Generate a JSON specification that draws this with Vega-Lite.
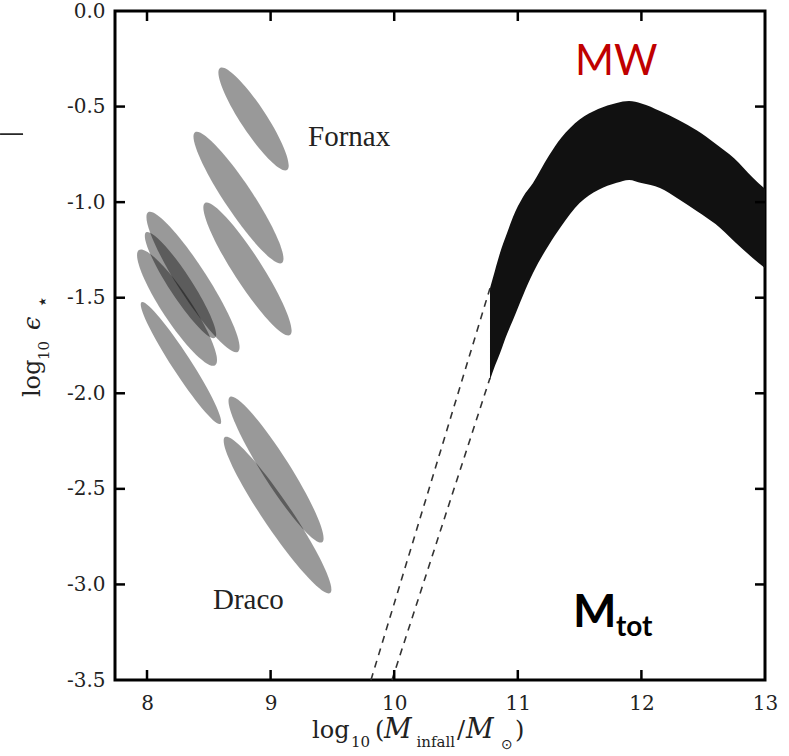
{
  "$schema": "https://vega.github.io/schema/vega-lite/v6.json",
  "width": 650,
  "height": 669,
  "autosize": {"type": "none"},
  "padding": {"left": 115, "top": 11, "right": 24, "bottom": 76},
  "background": "white",
  "config": {
    "view": {"stroke": "black", "strokeWidth": 3},
    "axis": {
      "grid": false,
      "domain": false,
      "ticks": false,
      "labelFont": "DejaVu Serif",
      "labelFontSize": 20,
      "labelColor": "#222",
      "labelFlush": false,
      "labelOverlap": false,
      "labelBound": false
    }
  },
  "resolve": {"axis": {"x": "independent", "y": "independent"}},
  "layer": [
    {
      "data": {
        "values": [
          {"logM": 8.862, "logEps": -0.565, "major": 0.987, "tilt": 56.7, "thin": 0.21},
          {"logM": 8.740, "logEps": -0.976, "major": 1.270, "tilt": 56.4, "thin": 0.18},
          {"logM": 8.813, "logEps": -1.350, "major": 1.270, "tilt": 57.2, "thin": 0.18},
          {"logM": 8.372, "logEps": -1.418, "major": 1.343, "tilt": 57.3, "thin": 0.18},
          {"logM": 8.271, "logEps": -1.434, "major": 1.019, "tilt": 56.9, "thin": 0.18},
          {"logM": 8.243, "logEps": -1.552, "major": 1.117, "tilt": 56.5, "thin": 0.21},
          {"logM": 8.275, "logEps": -1.842, "major": 1.173, "tilt": 57.0, "thin": 0.13},
          {"logM": 9.044, "logEps": -2.399, "major": 1.392, "tilt": 57.6, "thin": 0.16},
          {"logM": 9.056, "logEps": -2.637, "major": 1.521, "tilt": 56.0, "thin": 0.15}
        ]
      },
      "mark": {"type": "point", "filled": true, "color": "black", "opacity": 0.4, "strokeWidth": 0},
      "encoding": {
        "x": {
          "field": "logM", "type": "quantitative",
          "scale": {"domain": [7.741, 13], "nice": false, "zero": false},
          "axis": {"orient": "bottom", "values": [8, 9, 10, 11, 12, 13], "format": "d", "labelPadding": 13, "title": null}
        },
        "y": {
          "field": "logEps", "type": "quantitative",
          "scale": {"domain": [-3.5, 0], "nice": false, "zero": false},
          "axis": {
            "orient": "left",
            "values": [-3.5, -3, -2.5, -2, -1.5, -1, -0.5, 0],
            "labelExpr": "datum.value < 0 ? '-' + format(-datum.value, '.1f') : format(datum.value, '.1f')",
            "labelPadding": 10,
            "title": null
          }
        },
        "size": {
          "field": "major", "type": "quantitative",
          "scale": {"type": "pow", "exponent": 2, "domain": [0, 2], "range": [0, 61108]},
          "legend": null
        },
        "angle": {
          "field": "tilt", "type": "quantitative",
          "scale": {"domain": [0, 360], "range": [0, 360]}
        },
        "shape": {
          "field": "thin", "type": "ordinal",
          "scale": {
            "domain": [0.13, 0.15, 0.16, 0.18, 0.21],
            "range": [
              "M1,0C1,0.0718,0.5523,0.13,0,0.13C-0.5523,0.13,-1,0.0718,-1,0C-1,-0.0718,-0.5523,-0.13,0,-0.13C0.5523,-0.13,1,-0.0718,1,0Z",
              "M1,0C1,0.0828,0.5523,0.15,0,0.15C-0.5523,0.15,-1,0.0828,-1,0C-1,-0.0828,-0.5523,-0.15,0,-0.15C0.5523,-0.15,1,-0.0828,1,0Z",
              "M1,0C1,0.0884,0.5523,0.16,0,0.16C-0.5523,0.16,-1,0.0884,-1,0C-1,-0.0884,-0.5523,-0.16,0,-0.16C0.5523,-0.16,1,-0.0884,1,0Z",
              "M1,0C1,0.0994,0.5523,0.18,0,0.18C-0.5523,0.18,-1,0.0994,-1,0C-1,-0.0994,-0.5523,-0.18,0,-0.18C0.5523,-0.18,1,-0.0994,1,0Z",
              "M1,0C1,0.1160,0.5523,0.21,0,0.21C-0.5523,0.21,-1,0.1160,-1,0C-1,-0.1160,-0.5523,-0.21,0,-0.21C0.5523,-0.21,1,-0.1160,1,0Z"
            ]
          },
          "legend": null
        }
      }
    },
    {
      "data": {
        "values": [
          {"logM": 10.775, "hi": -1.45, "lo": -1.93},
          {"logM": 10.816, "hi": -1.356, "lo": -1.855},
          {"logM": 10.856, "hi": -1.266, "lo": -1.79},
          {"logM": 10.913, "hi": -1.162, "lo": -1.69},
          {"logM": 10.961, "hi": -1.078, "lo": -1.617},
          {"logM": 11.042, "hi": -0.973, "lo": -1.488},
          {"logM": 11.123, "hi": -0.9, "lo": -1.371},
          {"logM": 11.25, "hi": -0.759, "lo": -1.225},
          {"logM": 11.35, "hi": -0.665, "lo": -1.128},
          {"logM": 11.5, "hi": -0.568, "lo": -1.005},
          {"logM": 11.65, "hi": -0.513, "lo": -0.937},
          {"logM": 11.8, "hi": -0.481, "lo": -0.899},
          {"logM": 11.9, "hi": -0.471, "lo": -0.884},
          {"logM": 12.0, "hi": -0.484, "lo": -0.9},
          {"logM": 12.15, "hi": -0.523, "lo": -0.926},
          {"logM": 12.3, "hi": -0.57, "lo": -0.984},
          {"logM": 12.45, "hi": -0.625, "lo": -1.047},
          {"logM": 12.6, "hi": -0.694, "lo": -1.115},
          {"logM": 12.75, "hi": -0.77, "lo": -1.204},
          {"logM": 12.9, "hi": -0.871, "lo": -1.292},
          {"logM": 13.0, "hi": -0.931, "lo": -1.345}
        ]
      },
      "mark": {"type": "area", "color": "#111", "interpolate": "monotone"},
      "encoding": {
        "x": {"field": "logM", "type": "quantitative", "scale": {"domain": [7.741, 13], "nice": false, "zero": false}, "axis": null},
        "y": {"field": "hi", "type": "quantitative", "scale": {"domain": [-3.5, 0], "nice": false, "zero": false}, "axis": null},
        "y2": {"field": "lo"}
      }
    },
    {
      "data": {
        "values": [
          {"edge": "upper", "logM": 10.775, "logEps": -1.45},
          {"edge": "upper", "logM": 9.812, "logEps": -3.5},
          {"edge": "lower", "logM": 10.775, "logEps": -1.92},
          {"edge": "lower", "logM": 9.982, "logEps": -3.5}
        ]
      },
      "mark": {"type": "line", "color": "#333", "strokeWidth": 1.6, "strokeDash": [7, 6]},
      "encoding": {
        "x": {"field": "logM", "type": "quantitative", "scale": {"domain": [7.741, 13], "nice": false, "zero": false}, "axis": null},
        "y": {"field": "logEps", "type": "quantitative", "scale": {"domain": [-3.5, 0], "nice": false, "zero": false}, "axis": null},
        "detail": {"field": "edge"}
      }
    },
    {
      "data": {"values": [{"tick": 8}, {"tick": 9}, {"tick": 10}, {"tick": 11}, {"tick": 12}]},
      "mark": {"type": "point", "shape": "M-0.125,0L0.125,0L0.125,-1L-0.125,-1Z", "size": 400, "filled": true, "color": "black", "opacity": 1, "strokeWidth": 0},
      "encoding": {
        "x": {"field": "tick", "type": "quantitative", "scale": {"domain": [7.741, 13], "nice": false, "zero": false}, "axis": null},
        "y": {"datum": -3.5, "type": "quantitative", "scale": {"domain": [-3.5, 0], "nice": false, "zero": false}, "axis": null}
      }
    },
    {
      "data": {"values": [{"tick": 8}, {"tick": 9}, {"tick": 10}, {"tick": 11}, {"tick": 12}]},
      "mark": {"type": "point", "shape": "M-0.125,0L0.125,0L0.125,1L-0.125,1Z", "size": 400, "filled": true, "color": "black", "opacity": 1, "strokeWidth": 0},
      "encoding": {
        "x": {"field": "tick", "type": "quantitative", "scale": {"domain": [7.741, 13], "nice": false, "zero": false}, "axis": null},
        "y": {"datum": 0, "type": "quantitative", "scale": {"domain": [-3.5, 0], "nice": false, "zero": false}, "axis": null}
      }
    },
    {
      "data": {"values": [{"tick": -3}, {"tick": -2.5}, {"tick": -2}, {"tick": -1.5}, {"tick": -1}, {"tick": -0.5}]},
      "mark": {"type": "point", "shape": "M0,-0.125L1,-0.125L1,0.125L0,0.125Z", "size": 400, "filled": true, "color": "black", "opacity": 1, "strokeWidth": 0},
      "encoding": {
        "x": {"datum": 7.741, "type": "quantitative", "scale": {"domain": [7.741, 13], "nice": false, "zero": false}, "axis": null},
        "y": {"field": "tick", "type": "quantitative", "scale": {"domain": [-3.5, 0], "nice": false, "zero": false}, "axis": null}
      }
    },
    {
      "data": {"values": [{"tick": -3}, {"tick": -2.5}, {"tick": -2}, {"tick": -1.5}, {"tick": -1}, {"tick": -0.5}]},
      "mark": {"type": "point", "shape": "M0,-0.125L-1,-0.125L-1,0.125L0,0.125Z", "size": 400, "filled": true, "color": "black", "opacity": 1, "strokeWidth": 0},
      "encoding": {
        "x": {"datum": 13, "type": "quantitative", "scale": {"domain": [7.741, 13], "nice": false, "zero": false}, "axis": null},
        "y": {"field": "tick", "type": "quantitative", "scale": {"domain": [-3.5, 0], "nice": false, "zero": false}, "axis": null}
      }
    },
    {
      "data": {
        "values": [
          {"name": "Fornax", "logM": 9.303, "logEps": -0.705},
          {"name": "Draco", "logM": 8.534, "logEps": -3.129}
        ]
      },
      "mark": {"type": "text", "font": "Liberation Serif", "fontSize": 29, "color": "#222", "align": "left", "baseline": "alphabetic"},
      "encoding": {
        "x": {"field": "logM", "type": "quantitative", "scale": {"domain": [7.741, 13], "nice": false, "zero": false}, "axis": null},
        "y": {"field": "logEps", "type": "quantitative", "scale": {"domain": [-3.5, 0], "nice": false, "zero": false}, "axis": null},
        "text": {"field": "name"}
      }
    },
    {
      "data": {"values": [{"name": "MW", "logM": 11.463, "logEps": -0.335}]},
      "mark": {"type": "text", "font": "Lato", "fontSize": 42, "color": "#c00000", "align": "left", "baseline": "alphabetic"},
      "encoding": {
        "x": {"field": "logM", "type": "quantitative", "scale": {"domain": [7.741, 13], "nice": false, "zero": false}, "axis": null},
        "y": {"field": "logEps", "type": "quantitative", "scale": {"domain": [-3.5, 0], "nice": false, "zero": false}, "axis": null},
        "text": {"field": "name"}
      }
    },
    {
      "data": {"values": [{"name": "M", "logM": 11.447, "logEps": -3.223}]},
      "mark": {"type": "text", "font": "Lato", "fontWeight": "bold", "fontSize": 46, "color": "black", "align": "left", "baseline": "alphabetic"},
      "encoding": {
        "x": {"field": "logM", "type": "quantitative", "scale": {"domain": [7.741, 13], "nice": false, "zero": false}, "axis": null},
        "y": {"field": "logEps", "type": "quantitative", "scale": {"domain": [-3.5, 0], "nice": false, "zero": false}, "axis": null},
        "text": {"field": "name"}
      }
    },
    {
      "data": {"values": [{"name": "tot", "logM": 11.794, "logEps": -3.271}]},
      "mark": {"type": "text", "font": "Lato", "fontWeight": "bold", "fontSize": 28, "color": "black", "align": "left", "baseline": "alphabetic"},
      "encoding": {
        "x": {"field": "logM", "type": "quantitative", "scale": {"domain": [7.741, 13], "nice": false, "zero": false}, "axis": null},
        "y": {"field": "logEps", "type": "quantitative", "scale": {"domain": [-3.5, 0], "nice": false, "zero": false}, "axis": null},
        "text": {"field": "name"}
      }
    },
    {
      "data": {
        "values": [
          {"piece": "log", "logM": 9.335, "logEps": -3.804},
          {"piece": "(", "logM": 9.845, "logEps": -3.804},
          {"piece": "/", "logM": 10.508, "logEps": -3.804},
          {"piece": ")", "logM": 10.977, "logEps": -3.804}
        ]
      },
      "mark": {"type": "text", "font": "DejaVu Serif", "fontSize": 24, "color": "#222", "align": "left", "baseline": "alphabetic"},
      "encoding": {
        "x": {"field": "logM", "type": "quantitative", "scale": {"domain": [7.741, 13], "nice": false, "zero": false}, "axis": null},
        "y": {"field": "logEps", "type": "quantitative", "scale": {"domain": [-3.5, 0], "nice": false, "zero": false}, "axis": null},
        "text": {"field": "piece"}
      }
    },
    {
      "data": {
        "values": [
          {"piece": "M", "logM": 9.918, "logEps": -3.804},
          {"piece": "M", "logM": 10.581, "logEps": -3.804}
        ]
      },
      "mark": {"type": "text", "font": "DejaVu Serif", "fontStyle": "italic", "fontSize": 27, "color": "#222", "align": "left", "baseline": "alphabetic"},
      "encoding": {
        "x": {"field": "logM", "type": "quantitative", "scale": {"domain": [7.741, 13], "nice": false, "zero": false}, "axis": null},
        "y": {"field": "logEps", "type": "quantitative", "scale": {"domain": [-3.5, 0], "nice": false, "zero": false}, "axis": null},
        "text": {"field": "piece"}
      }
    },
    {
      "data": {
        "values": [
          {"piece": "10", "logM": 9.651, "logEps": -3.851},
          {"piece": "infall", "logM": 10.18, "logEps": -3.851}
        ]
      },
      "mark": {"type": "text", "font": "DejaVu Serif", "fontSize": 15, "color": "#222", "align": "left", "baseline": "alphabetic"},
      "encoding": {
        "x": {"field": "logM", "type": "quantitative", "scale": {"domain": [7.741, 13], "nice": false, "zero": false}, "axis": null},
        "y": {"field": "logEps", "type": "quantitative", "scale": {"domain": [-3.5, 0], "nice": false, "zero": false}, "axis": null},
        "text": {"field": "piece"}
      }
    },
    {
      "data": {"values": [{"piece": "⊙", "logM": 10.864, "logEps": -3.861}]},
      "mark": {"type": "text", "font": "DejaVu Sans", "fontSize": 14, "color": "#222", "align": "left", "baseline": "alphabetic"},
      "encoding": {
        "x": {"field": "logM", "type": "quantitative", "scale": {"domain": [7.741, 13], "nice": false, "zero": false}, "axis": null},
        "y": {"field": "logEps", "type": "quantitative", "scale": {"domain": [-3.5, 0], "nice": false, "zero": false}, "axis": null},
        "text": {"field": "piece"}
      }
    },
    {
      "data": {"values": [{"piece": "log", "logM": 7.138, "logEps": -2.02}]},
      "mark": {"type": "text", "font": "DejaVu Serif", "fontSize": 24, "color": "#222", "align": "left", "baseline": "alphabetic", "angle": 270},
      "encoding": {
        "x": {"field": "logM", "type": "quantitative", "scale": {"domain": [7.741, 13], "nice": false, "zero": false}, "axis": null},
        "y": {"field": "logEps", "type": "quantitative", "scale": {"domain": [-3.5, 0], "nice": false, "zero": false}, "axis": null},
        "text": {"field": "piece"}
      }
    },
    {
      "data": {"values": [{"piece": "10", "logM": 7.207, "logEps": -1.826}]},
      "mark": {"type": "text", "font": "DejaVu Serif", "fontSize": 15, "color": "#222", "align": "left", "baseline": "alphabetic", "angle": 270},
      "encoding": {
        "x": {"field": "logM", "type": "quantitative", "scale": {"domain": [7.741, 13], "nice": false, "zero": false}, "axis": null},
        "y": {"field": "logEps", "type": "quantitative", "scale": {"domain": [-3.5, 0], "nice": false, "zero": false}, "axis": null},
        "text": {"field": "piece"}
      }
    },
    {
      "data": {"values": [{"piece": "ϵ", "logM": 7.138, "logEps": -1.669}]},
      "mark": {"type": "text", "font": "DejaVu Serif", "fontStyle": "italic", "fontSize": 24, "color": "#222", "align": "left", "baseline": "alphabetic", "angle": 270},
      "encoding": {
        "x": {"field": "logM", "type": "quantitative", "scale": {"domain": [7.741, 13], "nice": false, "zero": false}, "axis": null},
        "y": {"field": "logEps", "type": "quantitative", "scale": {"domain": [-3.5, 0], "nice": false, "zero": false}, "axis": null},
        "text": {"field": "piece"}
      }
    },
    {
      "data": {"values": [{"piece": "⋆", "logM": 7.207, "logEps": -1.554}]},
      "mark": {"type": "text", "font": "DejaVu Sans", "fontSize": 20, "color": "#222", "align": "left", "baseline": "alphabetic", "angle": 270},
      "encoding": {
        "x": {"field": "logM", "type": "quantitative", "scale": {"domain": [7.741, 13], "nice": false, "zero": false}, "axis": null},
        "y": {"field": "logEps", "type": "quantitative", "scale": {"domain": [-3.5, 0], "nice": false, "zero": false}, "axis": null},
        "text": {"field": "piece"}
      }
    },
    {
      "data": {"values": [{"logM": 6.811, "logM2": 6.997, "logEps": -0.644}]},
      "mark": {"type": "rule", "color": "black", "strokeWidth": 1.5},
      "encoding": {
        "x": {"field": "logM", "type": "quantitative", "scale": {"domain": [7.741, 13], "nice": false, "zero": false}, "axis": null},
        "x2": {"field": "logM2"},
        "y": {"field": "logEps", "type": "quantitative", "scale": {"domain": [-3.5, 0], "nice": false, "zero": false}, "axis": null}
      }
    }
  ]
}
